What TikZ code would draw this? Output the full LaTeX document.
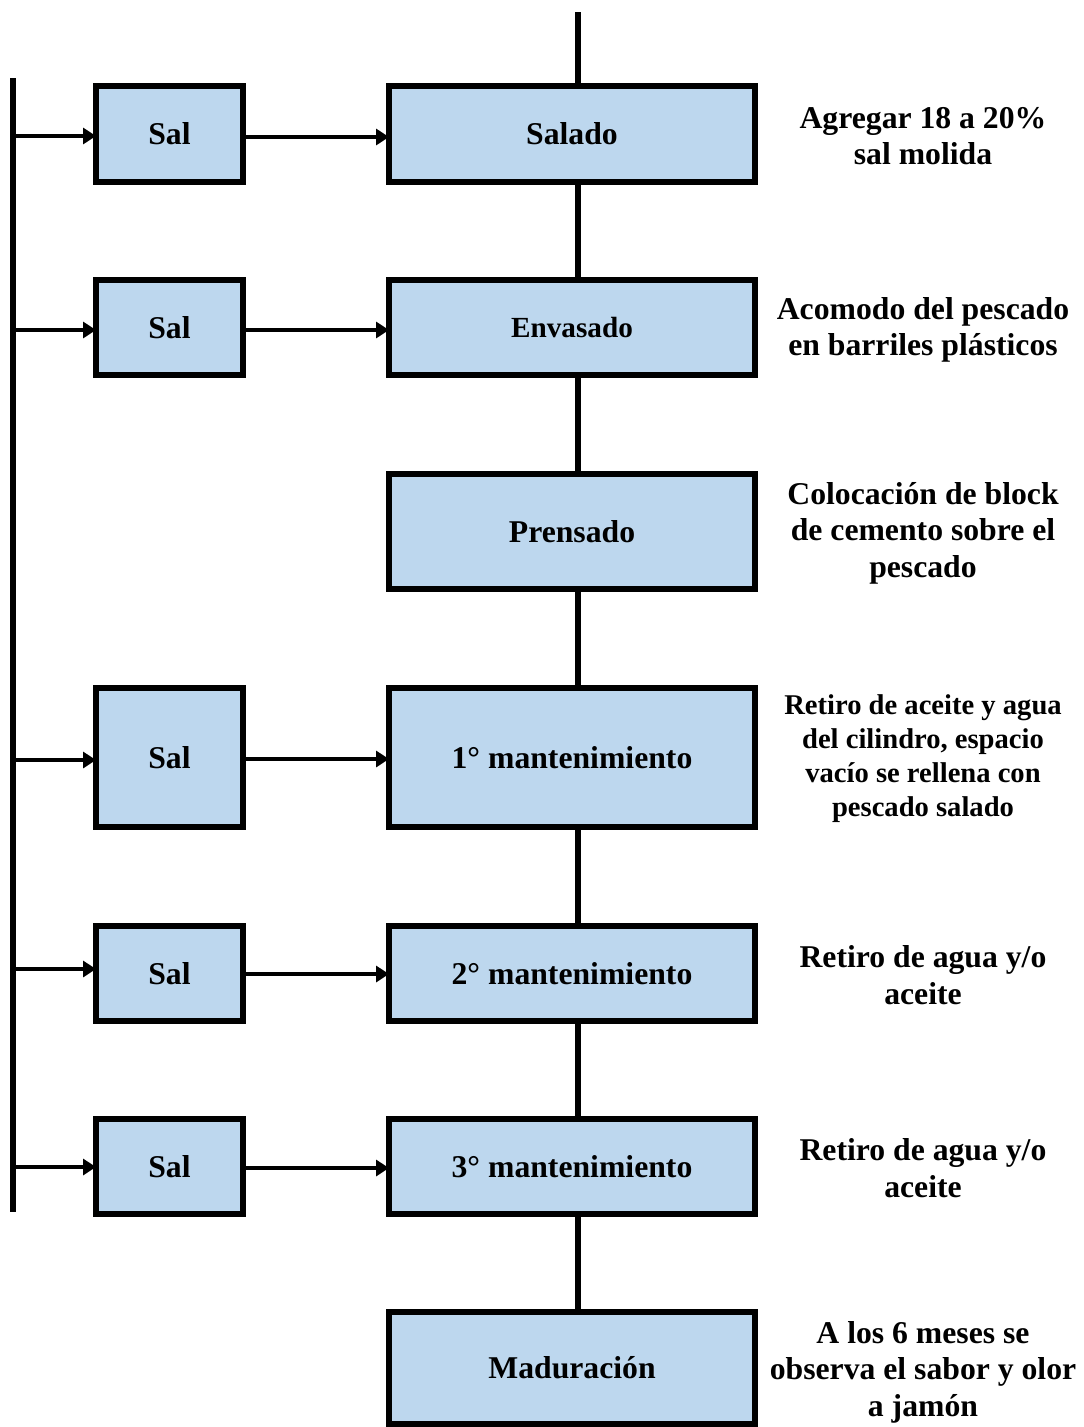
\documentclass[tikz,border=0pt]{standalone}
\usepackage{fontspec}
\setmainfont{Liberation Serif}
\usetikzlibrary{arrows.meta}
\definecolor{boxfill}{HTML}{BDD7EE}
\tikzset{
  proc/.style={draw=black, line width=5.5pt, fill=boxfill, rectangle, outer sep=0pt, inner sep=0pt,
    font=\bfseries\fontsize{31.7}{36.5}\selectfont, minimum width=366pt},
  salbox/.style={proc, minimum width=147pt},
  note/.style={align=center, inner sep=0pt, font=\bfseries\fontsize{31.7}{36.5}\selectfont},
  notesmall/.style={align=center, inner sep=0pt, font=\bfseries\fontsize{28.6}{34}\selectfont},
  flow/.style={line width=5.5pt},
  feed/.style={line width=4.2pt, -{Triangle[length=13pt,width=16pt]}},
}
\begin{document}
\begin{tikzpicture}[x=1pt,y=-1pt]
\useasboundingbox (0,0) rectangle (1084,1427);
% main process boxes
\node[proc, minimum height=96pt]  (salado)   at (572,134)   {Salado};
\node[proc, minimum height=95pt, font=\bfseries\fontsize{29.2}{34}\selectfont]  (envasado) at (572,327.5) {Envasado};
\node[proc, minimum height=115pt] (prensado) at (572,531.5) {Prensado};
\node[proc, minimum height=139pt] (m1)       at (572,757.5) {1° mantenimiento};
\node[proc, minimum height=95pt]  (m2)       at (572,973.5) {2° mantenimiento};
\node[proc, minimum height=95pt]  (m3)       at (572,1166.5) {3° mantenimiento};
\node[proc, minimum height=112pt] (mad)      at (572,1368)  {Maduración};
% salt boxes
\node[salbox, minimum height=96pt]  (s1) at (169.5,134)    {Sal};
\node[salbox, minimum height=95pt]  (s2) at (169.5,327.5)  {Sal};
\node[salbox, minimum height=139pt] (s4) at (169.5,757.5)  {Sal};
\node[salbox, minimum height=95pt]  (s5) at (169.5,973.5)  {Sal};
\node[salbox, minimum height=95pt]  (s6) at (169.5,1166.5) {Sal};
% notes
\node[note] (n1) at (923,136) {Agregar 18 a 20\%\\sal molida};
\node[note] (n2) at (923,330) {Acomodo del pescado\\en barriles plásticos};
\node[note] (n3) at (923,533) {Colocación de block\\de cemento sobre el\\pescado};
\node[notesmall] (n4) at (923,759) {Retiro de aceite y agua\\del cilindro, espacio\\vacío se rellena con\\pescado salado};
\node[note] (n5) at (923,975) {Retiro de agua y/o\\aceite};
\node[note] (n6) at (923,1168) {Retiro de agua y/o\\aceite};
\node[note] (n7) at (923,1372) {A los 6 meses se\\observa el sabor y olor\\a jamón};
% central flow line
\coordinate (top) at (578,12);
\draw[flow] (top) -- (top |- salado.north);
\draw[flow] (top |- salado.south) -- (top |- envasado.north);
\draw[flow] (top |- envasado.south) -- (top |- prensado.north);
\draw[flow] (top |- prensado.south) -- (top |- m1.north);
\draw[flow] (top |- m1.south) -- (top |- m2.north);
\draw[flow] (top |- m2.south) -- (top |- m3.north);
\draw[flow] (top |- m3.south) -- (top |- mad.north);
% salt bus
\coordinate (bustop) at (13,78);
\coordinate (busbot) at (13,1212);
\draw[flow] (bustop) -- (busbot);
% feeds
\draw[feed] (13,136) -- (s1.west |- 0,136);
\draw[feed] (s1.east |- 0,137) -- (salado.west |- 0,137);
\draw[feed] (13,330) -- (s2.west |- 0,330);
\draw[feed] (s2.east |- 0,330) -- (envasado.west |- 0,330);
\draw[feed] (13,760) -- (s4.west |- 0,760);
\draw[feed] (s4.east |- 0,759) -- (m1.west |- 0,759);
\draw[feed] (13,969) -- (s5.west |- 0,969);
\draw[feed] (s5.east |- 0,974) -- (m2.west |- 0,974);
\draw[feed] (13,1167) -- (s6.west |- 0,1167);
\draw[feed] (s6.east |- 0,1168) -- (m3.west |- 0,1168);
\end{tikzpicture}
\end{document}
